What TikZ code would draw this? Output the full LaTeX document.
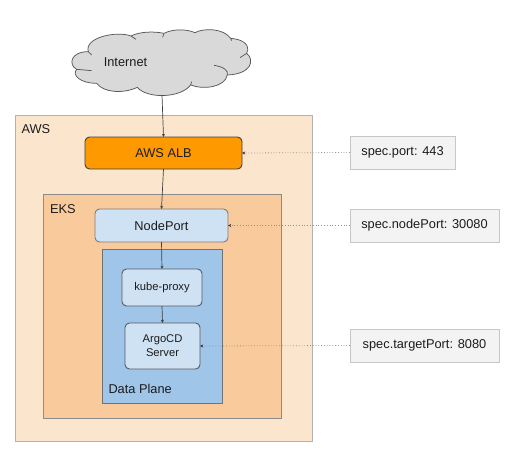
\documentclass[tikz,border=0pt]{standalone}
\usepackage{fontspec}
\setmainfont{Liberation Sans}
\usetikzlibrary{arrows.meta}
\definecolor{awsfill}{HTML}{FCE5CD}
\definecolor{eksfill}{HTML}{F9CB9C}
\definecolor{planefill}{HTML}{9FC5E8}
\definecolor{svcfill}{HTML}{CFE2F3}
\definecolor{albfill}{HTML}{FF9900}
\definecolor{specfill}{HTML}{F3F3F3}
\definecolor{cloudfill}{HTML}{D9D9D9}
\definecolor{edgegray}{HTML}{595959}
\definecolor{inkdark}{HTML}{1C1C1C}
\tikzset{
  x=1pt,y=-1pt,
  every node/.style={font=\fontsize{12.8}{15}\selectfont,text=inkdark,inner sep=0pt,outer sep=0pt,align=center},
  areabox/.style={draw=#1,line width=0.75pt,anchor=north west},
  svc/.style={draw=#1,rounded corners=4.5pt,line width=0.9pt},
  small/.style={font=\fontsize{11.2}{13.8}\selectfont},
  specbox/.style={draw=black!22,fill=specfill,line width=0.9pt},
  lbl/.style={anchor=west},
  flow/.style={draw=black!75,line width=0.7pt,-{Stealth[length=3.2pt,width=3pt]}},
  ref/.style={draw=gray!85,line width=0.8pt,dotted,-{Stealth[length=3.2pt,width=3pt,color=black!80]}},
  cloudline/.style={draw=edgegray,line width=0.75pt,line join=round},
}
\newcommand{\boxat}[6]{\node[#2,minimum width=#5-#3,minimum height=#6-#4] (#1) at ({(#3+#5)/2},{(#4+#6)/2})}
\begin{document}
\begin{tikzpicture}
\useasboundingbox (0,0) rectangle (510,452);
% nested areas
\node[areabox=black!30,fill=awsfill,minimum width=297pt,minimum height=326pt] (aws) at (15,115) {};
\node[areabox=black!45,fill=eksfill,minimum width=238pt,minimum height=224pt] (eks) at (43,194) {};
\node[areabox=edgegray!85,fill=planefill,minimum width=120pt,minimum height=154pt] (plane) at (102,249) {};
\node[lbl] (awslabel) at (21.5,129) {AWS};
\node[lbl] (ekslabel) at (50,209) {EKS};
\node[lbl] (planelabel) at (108.5,389) {Data Plane};
% cloud
\begin{scope}[shift={(60,0)},x=0.3333pt,y=-0.3333pt]
\fill[cloudfill] (85,155) .. controls (72,112) and (170,92) .. (213,108)
  .. controls (240,94) and (285,94) .. (312,100)
  .. controls (340,86) and (380,87) .. (405,98)
  .. controls (430,84) and (490,84) .. (512,115)
  .. controls (550,118) and (572,135) .. (560,160)
  .. controls (585,180) and (575,222) .. (502,225)
  .. controls (495,262) and (430,270) .. (392,255)
  .. controls (360,296) and (260,296) .. (232,262)
  .. controls (190,282) and (130,278) .. (110,250)
  .. controls (60,250) and (35,225) .. (50,208)
  .. controls (25,195) and (30,155) .. (85,155) -- cycle;
\draw[cloudline] (95,165) -- (85,155) .. controls (72,112) and (170,92) .. (213,108) -- (228,118);
\draw[cloudline] (213,108) .. controls (240,94) and (285,94) .. (312,100) .. controls (340,86) and (380,87) .. (405,98);
\draw[cloudline] (312,100) -- (308,112);
\draw[cloudline] (405,98) .. controls (430,84) and (490,84) .. (512,115) .. controls (550,118) and (572,135) .. (560,160);
\draw[cloudline] (512,115) -- (515,122);
\draw[cloudline] (540,173) -- (560,160) .. controls (585,180) and (575,222) .. (502,225);
\draw[cloudline] (462,196) .. controls (490,200) and (507,212) .. (502,225) .. controls (495,262) and (430,270) .. (392,255);
\draw[cloudline] (395,245) -- (392,255) .. controls (360,296) and (260,296) .. (232,262) -- (240,270);
\draw[cloudline] (232,262) .. controls (190,282) and (130,278) .. (110,250) .. controls (60,250) and (35,225) .. (50,208);
\draw[cloudline] (95,212) -- (50,208) .. controls (25,195) and (30,155) .. (85,155);
\end{scope}
\node (internet) at (125.5,62) {Internet};
\coordinate (cloudbottom) at (162,95);
% services
\boxat{alb}{svc=black!75,fill=albfill}{85}{137}{242}{169}{AWS ALB};
\boxat{nodeport}{svc=edgegray!80,fill=svcfill}{95}{209}{228}{242}{NodePort};
\boxat{kube}{svc=edgegray,fill=svcfill,small}{122}{269}{202}{306}{kube-proxy};
\boxat{argo}{svc=edgegray,fill=svcfill,small}{125}{323}{200}{369}{ArgoCD\\Server};
% spec callouts
\boxat{specport}{specbox}{350}{136}{455}{169}{spec.port: 443};
\boxat{specnode}{specbox}{350}{209}{499}{242}{spec.nodePort: 30080};
\boxat{spectarget}{specbox}{350}{329}{499}{362}{spec.targetPort: 8080};
% connectors
\draw[flow] (cloudbottom) -- (alb.north);
\draw[flow] (alb.south) -- (nodeport.north);
\draw[flow] (nodeport.south) -- (kube.north);
\draw[flow] (kube.south) -- (argo.north);
\draw[ref] (specport.west) -- (alb.east);
\draw[ref] (specnode.west) -- (nodeport.east);
\draw[ref] (spectarget.west) -- (argo.east);
\end{tikzpicture}
\end{document}
